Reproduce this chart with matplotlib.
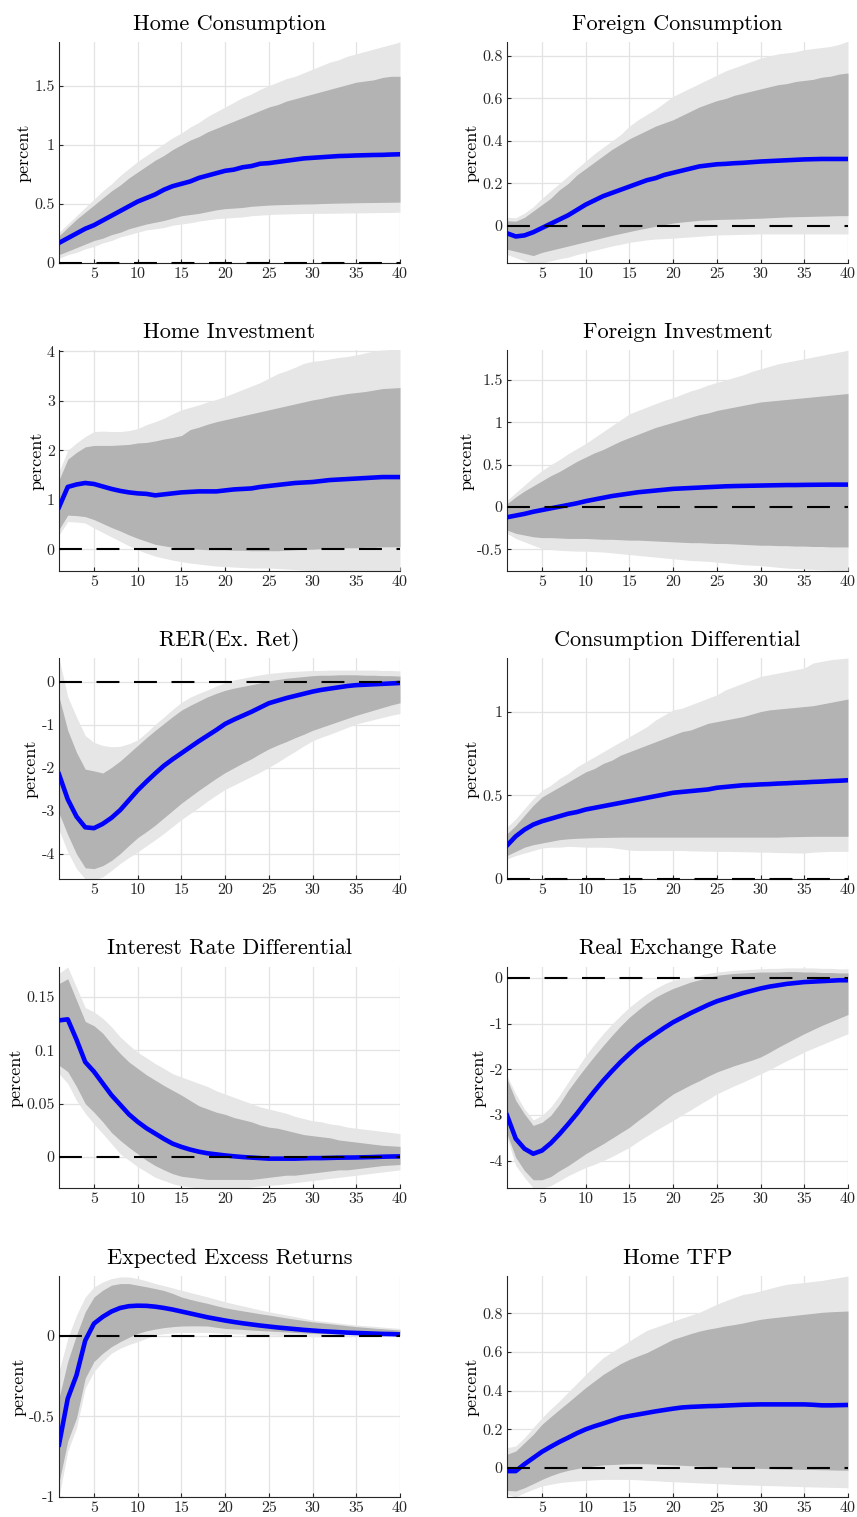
import numpy as np
import matplotlib
matplotlib.use("Agg")
import matplotlib.pyplot as plt
from matplotlib.ticker import FuncFormatter

# шрифт как в LaTeX
plt.rcParams['font.family'] = 'cmr10'
plt.rcParams['mathtext.fontset'] = 'cm'
plt.rcParams['axes.unicode_minus'] = False

periods = np.arange(1, 41)

# Home Consumption
hc_med = [0.17,0.21,0.25,0.29,0.32,0.36,0.40,0.44,0.48,0.52,0.55,0.58,0.62,0.65,0.67,0.69,0.72,0.74,0.76,0.78,0.79,0.81,0.82,0.84,0.845,0.855,0.865,0.875,0.885,0.89,0.895,0.90,0.905,0.907,0.91,0.912,0.914,0.915,0.918,0.92]
hc_in_hi = [0.23,0.30,0.37,0.43,0.49,0.55,0.61,0.66,0.72,0.77,0.82,0.87,0.91,0.96,1.00,1.04,1.07,1.11,1.14,1.17,1.20,1.23,1.26,1.29,1.32,1.34,1.37,1.39,1.41,1.43,1.45,1.47,1.49,1.51,1.53,1.54,1.55,1.57,1.58,1.58]
hc_in_lo = [0.07,0.10,0.13,0.16,0.19,0.21,0.24,0.26,0.29,0.31,0.33,0.345,0.36,0.38,0.40,0.41,0.42,0.435,0.45,0.46,0.465,0.47,0.48,0.485,0.49,0.493,0.495,0.497,0.499,0.50,0.503,0.505,0.507,0.508,0.51,0.511,0.512,0.513,0.514,0.515]
hc_out_hi = [0.26,0.33,0.40,0.47,0.54,0.61,0.67,0.74,0.80,0.86,0.91,0.96,1.01,1.06,1.10,1.15,1.19,1.24,1.28,1.32,1.36,1.40,1.43,1.47,1.50,1.53,1.56,1.58,1.61,1.64,1.67,1.70,1.72,1.75,1.77,1.79,1.81,1.83,1.85,1.87]
hc_out_lo = [0.04,0.07,0.09,0.12,0.14,0.17,0.19,0.22,0.24,0.26,0.28,0.29,0.30,0.32,0.33,0.34,0.355,0.365,0.375,0.38,0.385,0.39,0.40,0.405,0.41,0.413,0.415,0.417,0.419,0.42,0.42,0.421,0.422,0.423,0.424,0.425,0.426,0.427,0.428,0.43]

# Foreign Consumption
fc_med = [-0.035,-0.05,-0.045,-0.03,-0.01,0.01,0.03,0.05,0.075,0.10,0.12,0.14,0.155,0.17,0.185,0.20,0.215,0.225,0.24,0.25,0.26,0.27,0.28,0.285,0.29,0.292,0.295,0.297,0.30,0.303,0.305,0.307,0.309,0.311,0.313,0.314,0.315,0.315,0.315,0.315]
fc_in_hi = [0.024,0.022,0.04,0.07,0.10,0.13,0.17,0.20,0.24,0.27,0.30,0.33,0.36,0.385,0.41,0.43,0.45,0.47,0.485,0.50,0.52,0.54,0.56,0.575,0.59,0.60,0.615,0.625,0.635,0.645,0.655,0.665,0.67,0.68,0.685,0.69,0.70,0.705,0.715,0.72]
fc_in_lo = [-0.11,-0.12,-0.13,-0.14,-0.125,-0.115,-0.105,-0.095,-0.085,-0.075,-0.065,-0.055,-0.045,-0.036,-0.027,-0.018,-0.01,-0.002,0.006,0.013,0.018,0.022,0.026,0.028,0.03,0.031,0.032,0.033,0.035,0.036,0.038,0.04,0.042,0.043,0.044,0.045,0.046,0.047,0.048,0.048]
fc_out_hi = [0.04,0.038,0.06,0.09,0.13,0.165,0.2,0.235,0.27,0.305,0.34,0.37,0.40,0.43,0.47,0.50,0.525,0.55,0.58,0.61,0.63,0.65,0.67,0.69,0.71,0.73,0.745,0.76,0.775,0.79,0.80,0.81,0.815,0.82,0.83,0.835,0.84,0.845,0.855,0.87]
fc_out_lo = [-0.135,-0.15,-0.165,-0.18,-0.175,-0.165,-0.155,-0.148,-0.135,-0.125,-0.115,-0.105,-0.095,-0.087,-0.078,-0.072,-0.066,-0.062,-0.06,-0.058,-0.055,-0.052,-0.049,-0.046,-0.043,-0.042,-0.041,-0.04,-0.039,-0.038,-0.038,-0.038,-0.038,-0.038,-0.038,-0.038,-0.038,-0.038,-0.038,-0.038]

# Home Investment
hi_med = [0.85,1.26,1.31,1.34,1.32,1.27,1.22,1.18,1.15,1.13,1.12,1.09,1.11,1.13,1.15,1.16,1.17,1.17,1.17,1.19,1.21,1.22,1.23,1.26,1.28,1.30,1.32,1.34,1.35,1.36,1.38,1.40,1.41,1.42,1.43,1.44,1.45,1.46,1.46,1.46]
hi_in_hi = [1.40,1.82,1.96,2.07,2.10,2.10,2.10,2.11,2.12,2.15,2.16,2.19,2.23,2.26,2.30,2.42,2.47,2.53,2.58,2.62,2.66,2.70,2.74,2.78,2.82,2.86,2.90,2.94,2.98,3.02,3.05,3.09,3.12,3.15,3.17,3.19,3.22,3.25,3.26,3.27]
hi_in_lo = [0.40,0.69,0.68,0.66,0.60,0.52,0.44,0.37,0.29,0.22,0.16,0.10,0.07,0.04,0.02,0.01,0.0,-0.01,-0.01,-0.01,-0.02,-0.02,-0.03,-0.03,-0.03,-0.03,-0.02,-0.01,0.0,0.0,0.01,0.02,0.02,0.03,0.03,0.04,0.04,0.05,0.05,0.05]
hi_out_hi = [1.57,2.0,2.15,2.28,2.38,2.39,2.38,2.38,2.40,2.44,2.52,2.58,2.65,2.74,2.82,2.87,2.92,2.98,3.03,3.09,3.16,3.23,3.30,3.37,3.46,3.55,3.61,3.68,3.76,3.80,3.82,3.85,3.88,3.90,3.93,3.97,4.01,4.03,4.04,4.05]
hi_out_lo = [0.29,0.56,0.55,0.53,0.43,0.34,0.25,0.16,0.07,-0.01,-0.08,-0.14,-0.18,-0.22,-0.25,-0.28,-0.30,-0.32,-0.34,-0.35,-0.36,-0.37,-0.38,-0.38,-0.38,-0.39,-0.40,-0.41,-0.42,-0.43,-0.44,-0.45,-0.46,-0.46,-0.47,-0.47,-0.48,-0.48,-0.48,-0.48]

# Foreign Investment
fi_med = [-0.12,-0.10,-0.08,-0.055,-0.035,-0.015,0.005,0.025,0.045,0.07,0.09,0.11,0.13,0.145,0.16,0.175,0.185,0.195,0.205,0.215,0.22,0.225,0.23,0.235,0.24,0.245,0.248,0.25,0.252,0.254,0.256,0.258,0.26,0.26,0.262,0.263,0.264,0.265,0.265,0.265]
fi_in_hi = [0.04,0.12,0.19,0.25,0.31,0.37,0.42,0.48,0.54,0.59,0.64,0.68,0.73,0.78,0.82,0.86,0.90,0.94,0.97,1.0,1.03,1.06,1.09,1.11,1.14,1.16,1.18,1.20,1.22,1.24,1.25,1.26,1.27,1.28,1.29,1.30,1.31,1.32,1.33,1.34]
fi_in_lo = [-0.27,-0.31,-0.33,-0.35,-0.36,-0.36,-0.365,-0.37,-0.37,-0.37,-0.375,-0.38,-0.38,-0.385,-0.39,-0.39,-0.395,-0.40,-0.405,-0.41,-0.415,-0.42,-0.42,-0.425,-0.43,-0.43,-0.435,-0.44,-0.445,-0.45,-0.45,-0.455,-0.455,-0.46,-0.46,-0.465,-0.465,-0.47,-0.47,-0.47]
fi_out_hi = [0.08,0.17,0.26,0.35,0.43,0.50,0.56,0.63,0.69,0.75,0.82,0.89,0.96,1.03,1.10,1.14,1.18,1.22,1.26,1.29,1.33,1.37,1.40,1.44,1.47,1.50,1.53,1.56,1.60,1.63,1.66,1.69,1.71,1.73,1.75,1.77,1.79,1.81,1.83,1.85]
fi_out_lo = [-0.31,-0.37,-0.41,-0.45,-0.49,-0.50,-0.51,-0.515,-0.52,-0.52,-0.525,-0.53,-0.54,-0.55,-0.56,-0.57,-0.58,-0.59,-0.60,-0.61,-0.62,-0.63,-0.635,-0.64,-0.65,-0.66,-0.67,-0.68,-0.685,-0.69,-0.70,-0.71,-0.72,-0.725,-0.73,-0.735,-0.74,-0.745,-0.75,-0.75]

# RER(Ex. Ret)
rx_med = [-2.15,-2.73,-3.13,-3.38,-3.40,-3.30,-3.16,-2.98,-2.75,-2.52,-2.32,-2.13,-1.95,-1.80,-1.66,-1.52,-1.38,-1.25,-1.12,-0.98,-0.88,-0.79,-0.70,-0.60,-0.50,-0.44,-0.38,-0.33,-0.28,-0.23,-0.19,-0.16,-0.13,-0.10,-0.08,-0.07,-0.06,-0.05,-0.04,-0.03]
rx_in_hi = [-0.35,-1.13,-1.64,-2.03,-2.07,-2.12,-1.99,-1.84,-1.66,-1.48,-1.30,-1.13,-0.97,-0.81,-0.66,-0.55,-0.45,-0.35,-0.27,-0.20,-0.15,-0.11,-0.07,-0.03,0.02,0.05,0.08,0.10,0.12,0.14,0.15,0.15,0.16,0.16,0.16,0.15,0.15,0.14,0.14,0.13]
rx_in_lo = [-3.05,-3.55,-4.0,-4.32,-4.34,-4.27,-4.15,-3.99,-3.80,-3.62,-3.48,-3.33,-3.16,-2.99,-2.82,-2.67,-2.52,-2.38,-2.24,-2.11,-2.00,-1.89,-1.79,-1.67,-1.56,-1.47,-1.39,-1.30,-1.22,-1.13,-1.06,-0.99,-0.92,-0.85,-0.78,-0.72,-0.66,-0.60,-0.54,-0.49]
rx_out_hi = [0.55,-0.35,-0.82,-1.25,-1.41,-1.48,-1.51,-1.50,-1.44,-1.35,-1.18,-0.99,-0.82,-0.64,-0.48,-0.36,-0.27,-0.19,-0.10,-0.02,0.04,0.08,0.12,0.16,0.19,0.21,0.23,0.24,0.25,0.26,0.26,0.27,0.27,0.27,0.27,0.27,0.27,0.26,0.26,0.25]
rx_out_lo = [-3.44,-3.95,-4.34,-4.58,-4.60,-4.53,-4.38,-4.22,-4.08,-3.95,-3.81,-3.67,-3.52,-3.36,-3.20,-3.06,-2.92,-2.77,-2.63,-2.50,-2.40,-2.30,-2.20,-2.10,-1.99,-1.87,-1.74,-1.62,-1.49,-1.37,-1.29,-1.22,-1.14,-1.06,-0.98,-0.93,-0.88,-0.83,-0.78,-0.74]

# Consumption Differential
cd_med = [0.20,0.255,0.295,0.325,0.345,0.36,0.375,0.39,0.40,0.415,0.425,0.435,0.445,0.455,0.465,0.475,0.485,0.495,0.505,0.515,0.52,0.525,0.53,0.535,0.545,0.55,0.555,0.56,0.562,0.565,0.567,0.57,0.572,0.575,0.577,0.58,0.582,0.585,0.587,0.59]
cd_in_hi = [0.27,0.32,0.38,0.44,0.49,0.52,0.55,0.58,0.61,0.64,0.66,0.69,0.71,0.74,0.76,0.78,0.80,0.82,0.84,0.86,0.88,0.89,0.91,0.93,0.94,0.95,0.96,0.97,0.985,1.0,1.01,1.015,1.02,1.025,1.03,1.035,1.045,1.055,1.065,1.075]
cd_in_lo = [0.14,0.165,0.19,0.205,0.215,0.225,0.235,0.24,0.243,0.245,0.247,0.248,0.249,0.25,0.25,0.25,0.25,0.25,0.25,0.25,0.25,0.25,0.25,0.25,0.25,0.25,0.25,0.25,0.25,0.25,0.25,0.25,0.252,0.253,0.254,0.255,0.255,0.255,0.255,0.255]
cd_out_hi = [0.31,0.36,0.42,0.48,0.53,0.56,0.60,0.63,0.67,0.70,0.73,0.76,0.79,0.82,0.85,0.88,0.91,0.95,0.98,1.01,1.02,1.04,1.06,1.08,1.10,1.13,1.15,1.17,1.19,1.21,1.22,1.23,1.24,1.25,1.26,1.29,1.30,1.31,1.315,1.32]
cd_out_lo = [0.12,0.14,0.155,0.17,0.185,0.19,0.19,0.195,0.193,0.19,0.19,0.19,0.187,0.18,0.172,0.17,0.17,0.17,0.17,0.17,0.17,0.168,0.167,0.166,0.165,0.165,0.164,0.163,0.162,0.16,0.16,0.158,0.157,0.156,0.155,0.16,0.163,0.165,0.165,0.165]

# Interest Rate Differential
ir_med = [0.128,0.129,0.11,0.089,0.080,0.069,0.058,0.049,0.040,0.033,0.027,0.022,0.017,0.0125,0.0095,0.007,0.005,0.0035,0.0025,0.0015,0.0007,0.0,-0.0005,-0.001,-0.0015,-0.0015,-0.0015,-0.0015,-0.0012,-0.001,-0.001,-0.0008,-0.0006,-0.0005,-0.0004,-0.0002,0.0,0.0003,0.0005,0.0006]
ir_in_hi = [0.1625,0.167,0.147,0.127,0.123,0.116,0.106,0.097,0.089,0.083,0.077,0.072,0.067,0.0625,0.058,0.053,0.048,0.045,0.042,0.040,0.037,0.035,0.033,0.030,0.028,0.027,0.025,0.023,0.021,0.020,0.019,0.018,0.016,0.015,0.014,0.013,0.012,0.011,0.0105,0.010]
ir_in_lo = [0.086,0.080,0.066,0.050,0.042,0.033,0.023,0.0156,0.009,0.003,-0.003,-0.008,-0.012,-0.0156,-0.018,-0.019,-0.020,-0.021,-0.021,-0.021,-0.021,-0.021,-0.021,-0.020,-0.019,-0.018,-0.017,-0.017,-0.016,-0.015,-0.014,-0.013,-0.012,-0.012,-0.011,-0.010,-0.009,-0.008,-0.0075,-0.007]
ir_out_hi = [0.172,0.178,0.159,0.140,0.136,0.130,0.122,0.1125,0.105,0.098,0.093,0.0875,0.083,0.078,0.075,0.072,0.069,0.066,0.062,0.059,0.056,0.053,0.050,0.047,0.045,0.043,0.041,0.038,0.036,0.034,0.033,0.031,0.030,0.028,0.027,0.026,0.025,0.024,0.023,0.022]
ir_out_lo = [0.078,0.069,0.053,0.041,0.031,0.022,0.0125,0.003,-0.003,-0.009,-0.014,-0.019,-0.022,-0.025,-0.027,-0.028,-0.029,-0.029,-0.030,-0.030,-0.030,-0.029,-0.028,-0.027,-0.0265,-0.026,-0.025,-0.024,-0.023,-0.022,-0.021,-0.020,-0.019,-0.018,-0.017,-0.016,-0.015,-0.014,-0.013,-0.012]

# Real Exchange Rate
er_med = [-3.01,-3.52,-3.74,-3.85,-3.78,-3.62,-3.42,-3.20,-2.97,-2.72,-2.48,-2.25,-2.04,-1.84,-1.66,-1.49,-1.35,-1.22,-1.09,-0.97,-0.87,-0.77,-0.68,-0.59,-0.51,-0.45,-0.39,-0.33,-0.28,-0.23,-0.19,-0.16,-0.13,-0.11,-0.09,-0.08,-0.07,-0.06,-0.05,-0.05]
er_in_hi = [-2.21,-2.68,-2.98,-3.23,-3.16,-3.01,-2.76,-2.46,-2.20,-1.95,-1.71,-1.48,-1.26,-1.05,-0.86,-0.70,-0.55,-0.42,-0.32,-0.23,-0.16,-0.09,-0.04,0.01,0.06,0.08,0.10,0.11,0.12,0.13,0.13,0.13,0.14,0.14,0.13,0.13,0.12,0.12,0.11,0.11]
er_in_lo = [-3.41,-3.93,-4.22,-4.42,-4.42,-4.35,-4.22,-4.11,-3.98,-3.85,-3.74,-3.63,-3.51,-3.39,-3.27,-3.12,-2.98,-2.83,-2.68,-2.54,-2.44,-2.34,-2.25,-2.15,-2.06,-1.99,-1.92,-1.86,-1.80,-1.73,-1.63,-1.52,-1.42,-1.32,-1.22,-1.13,-1.04,-0.96,-0.88,-0.80]
er_out_hi = [-2.14,-2.54,-2.87,-3.11,-3.01,-2.83,-2.57,-2.28,-1.99,-1.70,-1.45,-1.22,-1.01,-0.82,-0.64,-0.49,-0.35,-0.23,-0.13,-0.05,-0.01,0.02,0.06,0.10,0.13,0.15,0.17,0.18,0.19,0.20,0.21,0.21,0.22,0.22,0.22,0.22,0.21,0.21,0.20,0.20]
er_out_lo = [-3.49,-4.11,-4.37,-4.60,-4.60,-4.55,-4.44,-4.33,-4.24,-4.15,-4.08,-4.00,-3.91,-3.81,-3.71,-3.58,-3.46,-3.34,-3.23,-3.12,-3.00,-2.89,-2.77,-2.66,-2.54,-2.45,-2.36,-2.28,-2.19,-2.10,-2.01,-1.91,-1.81,-1.72,-1.62,-1.54,-1.46,-1.38,-1.30,-1.22]

# Expected Excess Returns
ex_med = [-0.675,-0.39,-0.245,-0.03,0.075,0.117,0.150,0.172,0.183,0.186,0.185,0.180,0.172,0.162,0.150,0.138,0.126,0.114,0.104,0.094,0.085,0.077,0.070,0.063,0.057,0.051,0.046,0.041,0.036,0.032,0.028,0.025,0.022,0.019,0.017,0.015,0.013,0.011,0.010,0.008]
ex_in_hi = [-0.387,-0.16,0.004,0.148,0.240,0.282,0.313,0.323,0.323,0.313,0.303,0.292,0.280,0.262,0.240,0.225,0.212,0.200,0.186,0.173,0.163,0.154,0.145,0.136,0.128,0.119,0.110,0.102,0.094,0.086,0.080,0.074,0.068,0.062,0.056,0.052,0.047,0.043,0.039,0.035]
ex_in_lo = [-0.91,-0.654,-0.51,-0.263,-0.16,-0.109,-0.068,-0.037,-0.010,0.014,0.030,0.041,0.050,0.056,0.060,0.061,0.061,0.060,0.052,0.045,0.042,0.039,0.035,0.032,0.029,0.026,0.023,0.020,0.017,0.014,0.013,0.012,0.010,0.009,0.008,0.007,0.006,0.005,0.005,0.004]
ex_out_hi = [-0.222,-0.016,0.128,0.240,0.302,0.333,0.354,0.364,0.364,0.354,0.340,0.323,0.310,0.296,0.282,0.268,0.254,0.240,0.225,0.210,0.197,0.185,0.172,0.160,0.148,0.138,0.128,0.118,0.107,0.097,0.091,0.085,0.078,0.072,0.066,0.062,0.058,0.053,0.049,0.045]
ex_out_lo = [-1.0,-0.716,-0.572,-0.325,-0.222,-0.160,-0.109,-0.078,-0.055,-0.037,-0.016,0.004,0.012,0.017,0.020,0.020,0.020,0.020,0.017,0.014,0.012,0.010,0.008,0.006,0.004,0.002,0.0,-0.002,-0.004,-0.006,-0.006,-0.006,-0.006,-0.006,-0.006,-0.005,-0.005,-0.004,-0.004,-0.004]

# Home TFP
tf_med = [-0.016,-0.016,0.020,0.052,0.084,0.110,0.135,0.157,0.180,0.200,0.216,0.230,0.245,0.260,0.269,0.277,0.285,0.293,0.300,0.307,0.313,0.316,0.318,0.320,0.321,0.323,0.325,0.327,0.328,0.329,0.329,0.329,0.329,0.329,0.329,0.327,0.324,0.324,0.325,0.326]
tf_in_hi = [0.071,0.088,0.131,0.174,0.226,0.265,0.303,0.340,0.378,0.416,0.450,0.484,0.512,0.540,0.562,0.580,0.597,0.620,0.643,0.666,0.680,0.695,0.708,0.718,0.726,0.735,0.742,0.750,0.760,0.769,0.775,0.780,0.785,0.790,0.795,0.800,0.805,0.808,0.810,0.812]
tf_in_lo = [-0.116,-0.119,-0.102,-0.081,-0.059,-0.040,-0.024,-0.012,-0.003,0.005,0.011,0.016,0.018,0.020,0.022,0.022,0.022,0.020,0.018,0.016,0.014,0.012,0.010,0.008,0.005,0.004,0.002,0.001,0.0,-0.002,-0.003,-0.004,-0.005,-0.006,-0.007,-0.008,-0.009,-0.010,-0.011,-0.012]
tf_out_hi = [0.105,0.114,0.157,0.209,0.260,0.305,0.347,0.393,0.438,0.484,0.528,0.571,0.600,0.628,0.657,0.685,0.712,0.728,0.744,0.760,0.775,0.790,0.805,0.826,0.847,0.865,0.882,0.898,0.905,0.916,0.928,0.940,0.950,0.955,0.959,0.965,0.970,0.978,0.985,0.993]
tf_out_lo = [-0.136,-0.150,-0.128,-0.110,-0.093,-0.084,-0.076,-0.071,-0.067,-0.064,-0.061,-0.059,-0.059,-0.059,-0.059,-0.061,-0.064,-0.066,-0.069,-0.071,-0.073,-0.075,-0.077,-0.079,-0.081,-0.083,-0.085,-0.087,-0.088,-0.090,-0.091,-0.092,-0.094,-0.095,-0.097,-0.098,-0.099,-0.100,-0.101,-0.102]

titles = ["Home Consumption", "Foreign Consumption", "Home Investment", "Foreign Investment",
          "RER(Ex. Ret)", "Consumption Differential", "Interest Rate Differential", "Real Exchange Rate",
          "Expected Excess Returns", "Home TFP"]

y_limits = [(0, 1.87), (-0.175, 0.866), (-0.44, 4.03), (-0.754, 1.853), (-4.58, 0.55),
            (0, 1.32), (-0.029, 0.178), (-4.6, 0.24), (-1.0, 0.37), (-0.15, 0.993)]

y_ticks = [[0, 0.5, 1, 1.5], [0, 0.2, 0.4, 0.6, 0.8], [0, 1, 2, 3, 4], [-0.5, 0, 0.5, 1, 1.5],
           [-4, -3, -2, -1, 0], [0, 0.5, 1], [0, 0.05, 0.1, 0.15], [-4, -3, -2, -1, 0],
           [-1, -0.5, 0], [0, 0.2, 0.4, 0.6, 0.8]]

x_ticks = [5, 10, 15, 20, 25, 30, 35, 40]

series = [
    (hc_med, hc_in_lo, hc_in_hi, hc_out_lo, hc_out_hi),
    (fc_med, fc_in_lo, fc_in_hi, fc_out_lo, fc_out_hi),
    (hi_med, hi_in_lo, hi_in_hi, hi_out_lo, hi_out_hi),
    (fi_med, fi_in_lo, fi_in_hi, fi_out_lo, fi_out_hi),
    (rx_med, rx_in_lo, rx_in_hi, rx_out_lo, rx_out_hi),
    (cd_med, cd_in_lo, cd_in_hi, cd_out_lo, cd_out_hi),
    (ir_med, ir_in_lo, ir_in_hi, ir_out_lo, ir_out_hi),
    (er_med, er_in_lo, er_in_hi, er_out_lo, er_out_hi),
    (ex_med, ex_in_lo, ex_in_hi, ex_out_lo, ex_out_hi),
    (tf_med, tf_in_lo, tf_in_hi, tf_out_lo, tf_out_hi),
]

W, H = 857, 1517
col_left = [59, 507]           # пиксели
row_top = [42, 350, 658, 967, 1276]
ax_w, ax_h = 341, 221


def draw_irf(ax, title, data, ylim, yticks):
    med, in_lo, in_hi, out_lo, out_hi = data
    ax.fill_between(periods, out_lo, out_hi, color='#e6e6e6', lw=0)
    ax.fill_between(periods, in_lo, in_hi, color='#b3b3b3', lw=0)
    ax.plot(periods, med, color='#0000ff', lw=3.3, solid_joinstyle='round', zorder=3)
    # нулевая линия (не обрезаем, чтобы была видна на нижней границе)
    ax.axhline(0, color='k', lw=1.5, dashes=(11, 7), zorder=4, clip_on=False)

    ax.set_xlim(1, 40)
    ax.set_ylim(*ylim)
    ax.set_xticks(x_ticks)
    ax.set_yticks(yticks)
    ax.yaxis.set_major_formatter(FuncFormatter(lambda v, p: '%g' % v))
    ax.set_axisbelow(True)
    ax.grid(True, color='#e3e3e3', lw=0.9)

    for s in ['top', 'right']:
        ax.spines[s].set_visible(False)
    for s in ['left', 'bottom']:
        ax.spines[s].set_color('#262626')
        ax.spines[s].set_linewidth(0.8)
    ax.tick_params(direction='in', length=3, width=0.8, color='#262626',
                   labelcolor='#262626', labelsize=11.5, pad=3)

    ax.set_title(title, fontsize=16, pad=9)
    ax.set_ylabel('percent', fontsize=13, labelpad=2)


fig = plt.figure(figsize=(W / 100, H / 100), dpi=100)

for i in range(10):
    r, c = divmod(i, 2)
    left = col_left[c] / W
    bottom = 1 - (row_top[r] + ax_h) / H
    ax = fig.add_axes([left, bottom, ax_w / W, ax_h / H])
    draw_irf(ax, titles[i], series[i], y_limits[i], y_ticks[i])

fig.savefig('out.png', dpi=100)
